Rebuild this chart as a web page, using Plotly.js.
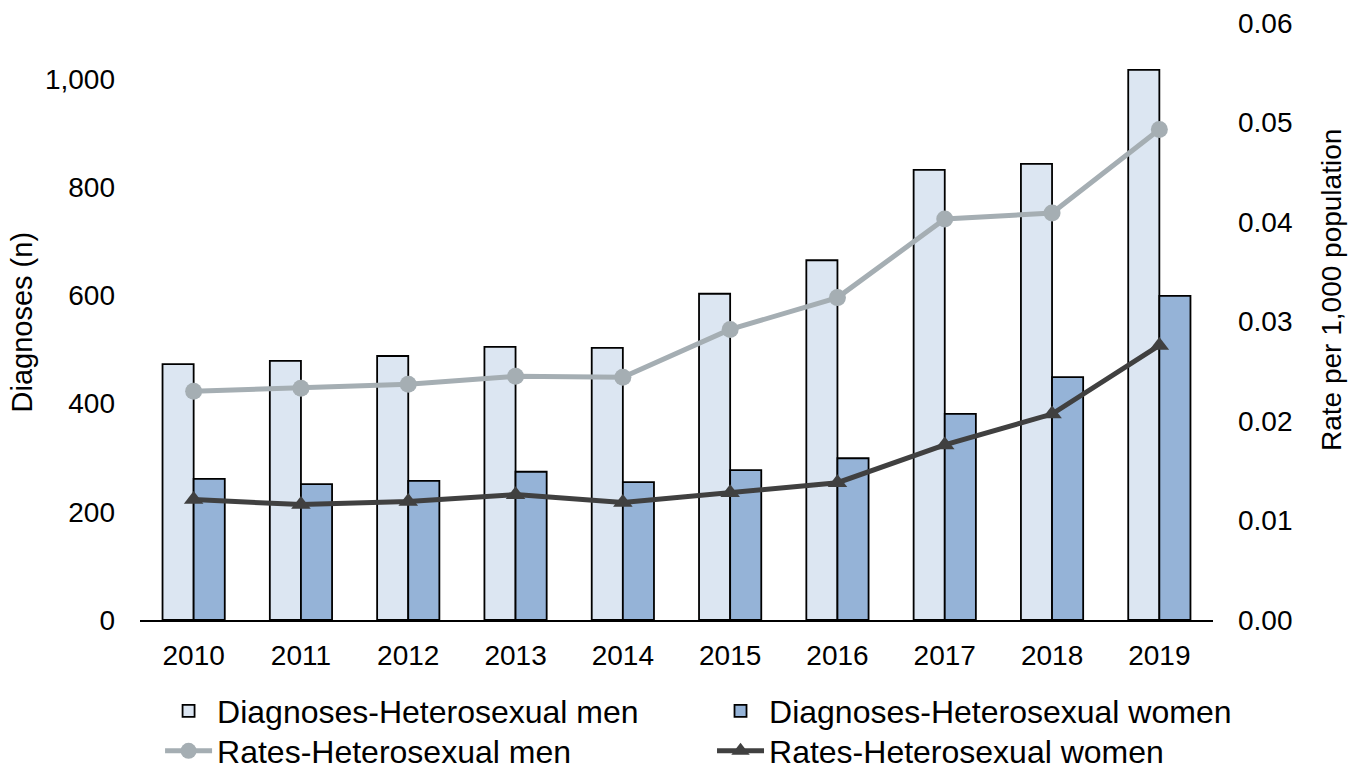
<!DOCTYPE html>
<html>
<head>
<meta charset="utf-8">
<script src="https://cdn.plot.ly/plotly-3.0.1.min.js"></script>
<style>html,body{margin:0;padding:0;background:#fff;}#chart{width:1364px;height:769px;}</style>
</head>
<body>
<div id="chart"></div>
<script>
var years = ['2010','2011','2012','2013','2014','2015','2016','2017','2018','2019'];
var diagMen = [473, 479, 488, 505, 503, 603, 665, 832, 843, 1017];
var diagWomen = [261, 251, 257, 274, 255, 277, 299, 381, 449, 599];
var rateMen = [0.0230, 0.0233, 0.0237, 0.0245, 0.0244, 0.0292, 0.0324, 0.0403, 0.0409, 0.0493];
var rateWomen = [0.0121, 0.0116, 0.0119, 0.0126, 0.0118, 0.0128, 0.0138, 0.0176, 0.0207, 0.0276];
var names = ['Diagnoses-Heterosexual men','Diagnoses-Heterosexual women','Rates-Heterosexual men','Rates-Heterosexual women'];
var leftTicks = [0, 200, 400, 600, 800, 1000];
var leftTickText = ['0','200','400','600','800','1,000'];
var rightTicks = [0, 0.01, 0.02, 0.03, 0.04, 0.05, 0.06];
var rightTickText = ['0.00','0.01','0.02','0.03','0.04','0.05','0.06'];

var font = 'Liberation Sans, Arial, sans-serif';
var traces = [
  {type:'bar', x:years, y:diagMen, name:names[0], legend:'legend', marker:{color:'#DCE6F2', line:{color:'#000000', width:1.8}}, yaxis:'y'},
  {type:'bar', x:years, y:diagWomen, name:names[1], legend:'legend2', marker:{color:'#95B3D7', line:{color:'#000000', width:1.8}}, yaxis:'y'},
  {type:'scatter', mode:'lines+markers', x:years, y:rateMen, name:names[2], legend:'legend3', yaxis:'y2',
   line:{color:'#A5AEB3', width:5}, marker:{symbol:'circle', size:17, color:'#A5AEB3'}},
  {type:'scatter', mode:'lines+markers', x:years, y:rateWomen, name:names[3], legend:'legend4', yaxis:'y2',
   line:{color:'#404040', width:5}, marker:{symbol:'triangle-up', size:17, color:'#404040'}}
];
function legendCfg(xp, yp){
  return {orientation:'v', x:xp, y:yp, xanchor:'left', yanchor:'top', xref:'paper', yref:'paper',
          font:{family:font, size:32, color:'#000000'}, tracegroupgap:0, itemwidth:47,
          bgcolor:'rgba(0,0,0,0)', traceorder:'normal'};
}
var layout = {
  width:1364, height:769,
  margin:{l:140, r:151, t:23, b:149, autoexpand:false},
  paper_bgcolor:'#ffffff', plot_bgcolor:'#ffffff',
  font:{family:font, size:28, color:'#000000'},
  barmode:'group', bargap:0.42, bargroupgap:0,
  showlegend:true,
  legend:legendCfg(0.0187, -0.1064),
  legend2:legendCfg(0.5331, -0.1064),
  legend3:legendCfg(0.0187, -0.1734),
  legend4:legendCfg(0.5331, -0.1734),
  xaxis:{type:'category', range:[-0.5, 9.5], showgrid:false, zeroline:false, showline:true, linecolor:'#000000', linewidth:1.5,
         ticks:'', tickfont:{family:font, size:28, color:'#000000'}, ticklabelstandoff:10},
  yaxis:{range:[0,1103.5], tickvals:leftTicks, ticktext:leftTickText, showgrid:false, zeroline:false, showline:false,
         ticks:'', tickfont:{family:font, size:28, color:'#000000'}, ticklabelstandoff:24},
  yaxis2:{range:[0,0.06], overlaying:'y', side:'right', tickvals:rightTicks, ticktext:rightTickText,
          showgrid:false, zeroline:false, showline:false, ticks:'', tickfont:{family:font, size:28, color:'#000000'}, ticklabelstandoff:24},
  annotations:[
    {text:'Diagnoses (n)', xref:'paper', yref:'paper', x:-0.11, y:0.5, xanchor:'center', yanchor:'middle',
     textangle:-90, showarrow:false, font:{family:font, size:29, color:'#000000'}},
    {text:'Rate per 1,000 population', xref:'paper', yref:'paper', x:1.111, y:0.553, xanchor:'center', yanchor:'middle',
     textangle:-90, showarrow:false, font:{family:font, size:28, color:'#000000'}}
  ]
};
Plotly.newPlot('chart', traces, layout, {displayModeBar:false, staticPlot:true});
</script>
</body>
</html>
